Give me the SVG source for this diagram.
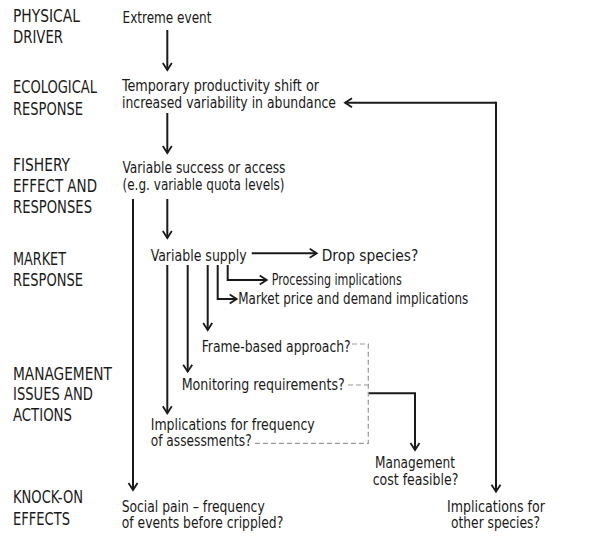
<svg xmlns="http://www.w3.org/2000/svg" width="611" height="540" viewBox="0 0 611 540">
  <style>
    .lbl { font-family: "DejaVu Sans Condensed", "Liberation Sans Narrow", "Liberation Sans", sans-serif; font-size: 18px; fill: #1a1a1a; }
    .txt { font-family: "DejaVu Sans Condensed", "Liberation Sans Narrow", "Liberation Sans", sans-serif; font-size: 15px; fill: #1a1a1a; }
    .mid { text-anchor: middle; }
    .link { fill: none; stroke: #1a1a1a; stroke-width: 2; }
    .dash { fill: none; stroke: #9a9a9a; stroke-width: 1.2; stroke-dasharray: 5 3; }
  </style>
  <defs>
    <marker id="head" markerUnits="userSpaceOnUse" markerWidth="20" markerHeight="20" refX="0" refY="0" orient="auto" overflow="visible">
      <path d="M-7,-4.5 L0,0 L-7,4.5" fill="none" stroke="#1a1a1a" stroke-width="1.8"/>
    </marker>
  </defs>
  <rect width="611" height="540" fill="#ffffff"/>

  <!-- stage labels down the left side -->
  <g id="stage-physical">
    <text class="lbl" x="13" y="22" textLength="67" lengthAdjust="spacingAndGlyphs">PHYSICAL</text>
    <text class="lbl" x="13" y="43" textLength="50" lengthAdjust="spacingAndGlyphs">DRIVER</text>
  </g>
  <g id="stage-ecological">
    <text class="lbl" x="13" y="93" textLength="84" lengthAdjust="spacingAndGlyphs">ECOLOGICAL</text>
    <text class="lbl" x="13" y="115" textLength="70" lengthAdjust="spacingAndGlyphs">RESPONSE</text>
  </g>
  <g id="stage-fishery">
    <text class="lbl" x="13" y="171" textLength="57" lengthAdjust="spacingAndGlyphs">FISHERY</text>
    <text class="lbl" x="13" y="192" textLength="84" lengthAdjust="spacingAndGlyphs">EFFECT AND</text>
    <text class="lbl" x="13" y="213" textLength="79" lengthAdjust="spacingAndGlyphs">RESPONSES</text>
  </g>
  <g id="stage-market">
    <text class="lbl" x="13" y="265" textLength="53" lengthAdjust="spacingAndGlyphs">MARKET</text>
    <text class="lbl" x="13" y="286" textLength="70" lengthAdjust="spacingAndGlyphs">RESPONSE</text>
  </g>
  <g id="stage-management">
    <text class="lbl" x="13" y="379.5" textLength="99" lengthAdjust="spacingAndGlyphs">MANAGEMENT</text>
    <text class="lbl" x="13" y="400" textLength="80" lengthAdjust="spacingAndGlyphs">ISSUES AND</text>
    <text class="lbl" x="13" y="420.5" textLength="59" lengthAdjust="spacingAndGlyphs">ACTIONS</text>
  </g>
  <g id="stage-knockon">
    <text class="lbl" x="13" y="503" textLength="70" lengthAdjust="spacingAndGlyphs">KNOCK-ON</text>
    <text class="lbl" x="13" y="525" textLength="57" lengthAdjust="spacingAndGlyphs">EFFECTS</text>
  </g>

  <!-- flow nodes -->
  <g id="extreme-event">
    <text class="txt" x="122.5" y="22.5" textLength="89" lengthAdjust="spacingAndGlyphs">Extreme event</text>
  </g>
  <g id="productivity-shift">
    <text class="txt" x="122" y="91" textLength="197" lengthAdjust="spacingAndGlyphs">Temporary productivity shift or</text>
    <text class="txt" x="122" y="107.5" textLength="214" lengthAdjust="spacingAndGlyphs">increased variability in abundance</text>
  </g>
  <g id="variable-success">
    <text class="txt" x="122.5" y="173" textLength="163" lengthAdjust="spacingAndGlyphs">Variable success or access</text>
    <text class="txt" x="122.5" y="189.5" textLength="162" lengthAdjust="spacingAndGlyphs">(e.g. variable quota levels)</text>
  </g>
  <g id="variable-supply">
    <text class="txt" x="150.7" y="260.5" textLength="96" lengthAdjust="spacingAndGlyphs">Variable supply</text>
  </g>
  <g id="drop-species">
    <text class="txt" x="321.7" y="260.5" textLength="96.6" lengthAdjust="spacingAndGlyphs">Drop species?</text>
  </g>
  <g id="processing">
    <text class="txt" x="271.7" y="285" textLength="130" lengthAdjust="spacingAndGlyphs">Processing implications</text>
  </g>
  <g id="market-price">
    <text class="txt" x="238.3" y="304" textLength="230" lengthAdjust="spacingAndGlyphs">Market price and demand implications</text>
  </g>
  <g id="frame-based">
    <text class="txt" x="201.7" y="352" textLength="149" lengthAdjust="spacingAndGlyphs">Frame-based approach?</text>
  </g>
  <g id="monitoring">
    <text class="txt" x="181.7" y="390" textLength="163" lengthAdjust="spacingAndGlyphs">Monitoring requirements?</text>
  </g>
  <g id="assessments">
    <text class="txt" x="150.7" y="429.5" textLength="164" lengthAdjust="spacingAndGlyphs">Implications for frequency</text>
    <text class="txt" x="150.7" y="446" textLength="101" lengthAdjust="spacingAndGlyphs">of assessments?</text>
  </g>
  <g id="management-cost">
    <text class="txt mid" x="415" y="468" textLength="80" lengthAdjust="spacingAndGlyphs">Management</text>
    <text class="txt mid" x="415.5" y="484.5" textLength="85.6" lengthAdjust="spacingAndGlyphs">cost feasible?</text>
  </g>
  <g id="social-pain">
    <text class="txt" x="121.7" y="511.5" textLength="143" lengthAdjust="spacingAndGlyphs">Social pain – frequency</text>
    <text class="txt" x="121.7" y="528" textLength="161.6" lengthAdjust="spacingAndGlyphs">of events before crippled?</text>
  </g>
  <g id="other-species">
    <text class="txt mid" x="496" y="511.5" textLength="98" lengthAdjust="spacingAndGlyphs">Implications for</text>
    <text class="txt mid" x="495.5" y="528" textLength="89" lengthAdjust="spacingAndGlyphs">other species?</text>
  </g>

  <!-- connectors -->
  <g id="connectors">
    <path class="link" d="M167.3,30 V70" marker-end="url(#head)"/>
    <path class="link" d="M167.3,113 V153" marker-end="url(#head)"/>
    <path class="link" d="M167.3,199 V238" marker-end="url(#head)"/>
    <path class="link" d="M133,199 V490" marker-end="url(#head)"/>
    <path class="link" d="M251.7,253.3 H316.7" marker-end="url(#head)"/>
    <path class="link" d="M227.7,265 V280 H266.7" marker-end="url(#head)"/>
    <path class="link" d="M217.7,265 V299 H236.7" marker-end="url(#head)"/>
    <path class="link" d="M207.7,265 V330" marker-end="url(#head)"/>
    <path class="link" d="M187.7,265 V371.7" marker-end="url(#head)"/>
    <path class="link" d="M167.3,265 V413.3" marker-end="url(#head)"/>
    <path class="link" d="M368.3,393.3 H415 V450" marker-end="url(#head)"/>
    <path class="link" d="M496,102.7 H345" marker-end="url(#head)"/>
    <path class="link" d="M496,101.7 V491.7" marker-end="url(#head)"/>
    <path class="dash" d="M352,344 H368.3 V443.3 H255"/>
    <path class="dash" d="M348,385 H368.3"/>
  </g>
</svg>
